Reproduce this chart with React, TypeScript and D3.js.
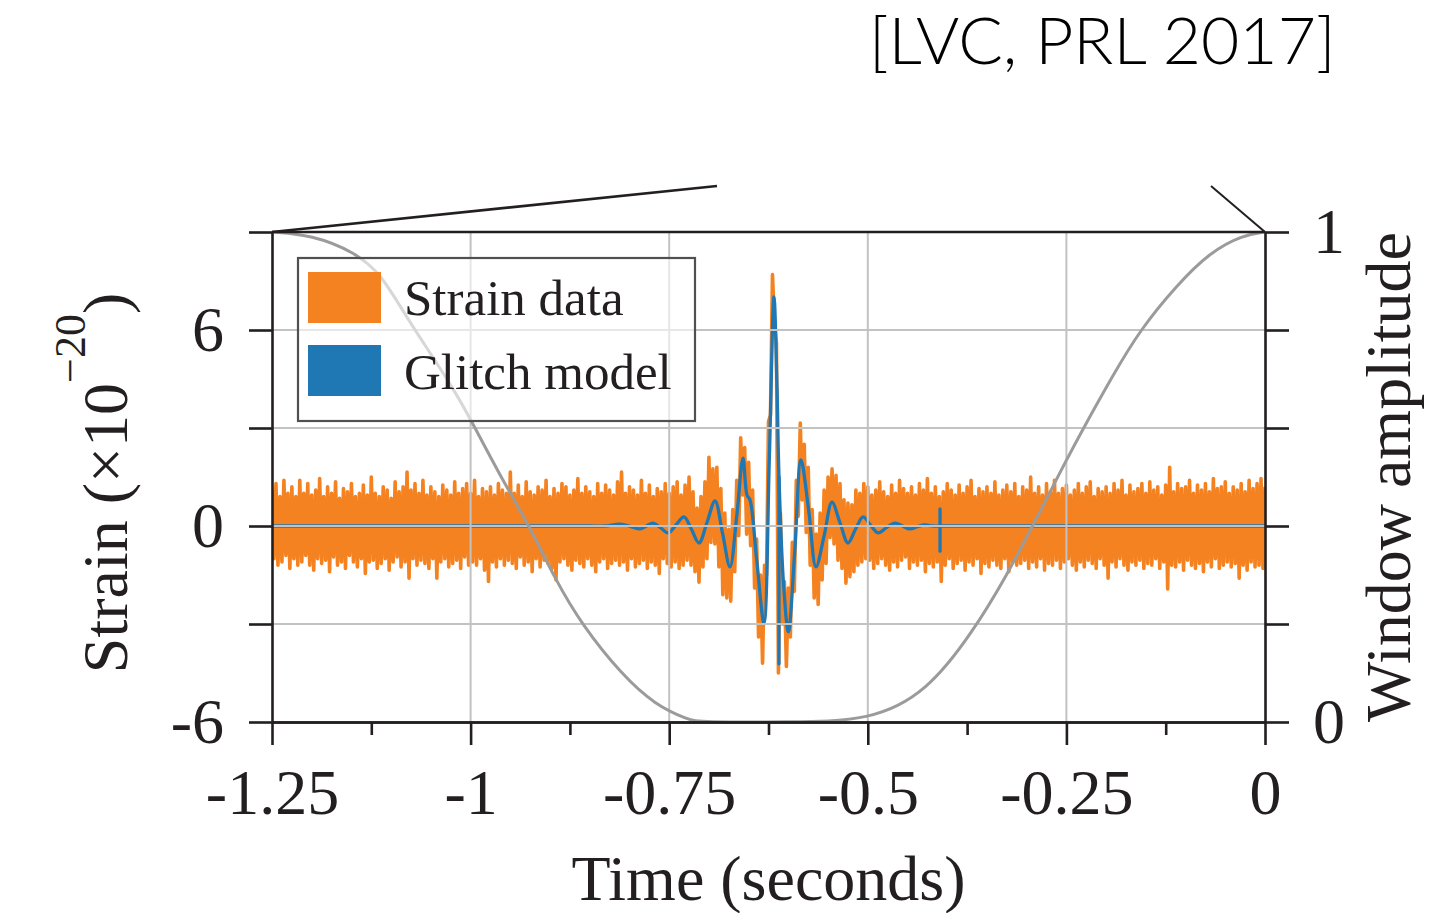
import React, { useEffect, useRef } from 'react';
import * as d3 from 'd3';

// ---------------- data ----------------
const xDomain: [number, number] = [-1.25, 0];
const yDomain: [number, number] = [-6, 9];
const y2Domain: [number, number] = [0, 1];

const xMajorTicks = [-1.25, -1, -0.75, -0.5, -0.25, 0];
const xMinorTicks = [-1.125, -0.875, -0.625, -0.375, -0.125];
const xGrid = [-1, -0.75, -0.5, -0.25];
const yTicks = [-6, -3, 0, 3, 6, 9];
const yTickLabels = [-6, 0, 6];
const yGrid = [-3, 0, 3, 6];
const y2Ticks = [0, 0.2, 0.4, 0.6, 0.8, 1];
const y2TickLabels = [0, 1];

const legendLabels = ['Strain data', 'Glitch model'];
const legendColors = ['#f58220', '#1f77b4'];

// strain samples, one every 0.0025 s starting at -1.25 s (units of 1e-20)
const strainStart = -1.25;
const strainStep = 0.0025;
const strainValues = [
  1.1,-1.0,1.3,-1.2,0.9,-1.1,1.4,-0.9,1.0,-1.3,1.2,-1.0,0.9,-1.2,1.4,-1.1,1.0,-0.9,1.3,-1.2,
  0.95,-1.35,1.1,-1.0,1.45,-1.15,0.9,-1.05,1.2,-1.4,1.0,-0.95,1.35,-1.2,0.85,-1.1,1.15,-1.3,1.05,-0.9,
  1.3,-1.1,0.9,-1.25,1.0,-1.0,1.25,-1.45,0.95,-1.1,1.5,-1.05,1.0,-1.3,0.9,-1.15,1.2,-1.0,1.1,-1.35,
  0.85,-1.1,1.35,-0.95,1.05,-1.25,1.2,-1.1,1.65,-1.6,1.1,-1.0,1.3,-1.2,1.0,-1.05,1.4,-1.15,0.95,-1.3,
  1.2,-1.0,1.05,-1.6,0.9,-1.1,1.25,-1.0,1.1,-1.25,0.95,-1.15,1.35,-1.05,1.0,-1.3,1.15,-0.95,1.3,-1.2,
  1.0,-1.1,1.4,-1.2,0.9,-1.0,1.15,-1.35,1.05,-1.7,1.2,-1.1,0.95,-1.25,1.3,-1.0,1.1,-1.2,1.0,-1.05,
  1.65,-1.15,1.0,-1.3,1.25,-0.95,0.9,-1.2,1.35,-1.1,1.05,-1.4,0.95,-1.0,1.2,-1.25,1.1,-1.05,1.4,-1.15,
  0.9,-1.3,1.15,-1.65,1.0,-1.1,1.3,-1.0,1.2,-1.2,0.95,-1.35,1.1,-1.05,1.45,-1.15,1.0,-1.25,1.2,-1.0,
  1.05,-1.2,0.9,-1.4,1.3,-1.1,1.0,-1.0,1.25,-1.3,1.1,-1.15,0.95,-1.05,1.35,-1.2,1.65,-1.1,1.0,-1.35,
  1.2,-1.0,1.1,-1.25,0.95,-1.15,1.4,-1.05,1.0,-1.3,1.25,-1.1,0.9,-1.2,1.15,-1.45,1.05,-1.0,1.3,-1.15,
  1.0,-1.25,1.2,-1.1,1.35,-1.3,0.95,-1.2,1.25,-1.05,1.5,-1.2,1.05,-1.4,0.55,-1.72,0.9,-1.25,1.35,-1.0,
  2.1,-0.5,1.75,-0.55,1.8,-1.25,1.15,-2.1,0.4,-2.2,-0.1,-2.3,0.5,-1.4,1.4,-0.3,2.7,0.95,2.4,-0.25,
  1.95,-0.6,1.1,-1.9,-0.4,-3.4,-1.5,-4.2,-1.2,-1.5,3.2,3.4,7.7,6.2,5.6,-4.5,0.4,-3.0,-1.7,-4.3,
  -1.9,-3.4,-0.5,-2.0,1.4,0.3,3.15,0.8,2.5,-0.2,1.8,-1.2,0.5,-2.2,-0.25,-2.4,0.4,-1.65,1.1,-1.15,
  1.5,-0.35,1.75,-0.55,1.55,-1.05,1.3,-1.3,0.8,-1.75,0.7,-1.55,0.65,-1.4,1.1,-1.2,1.0,-1.1,1.3,-1.0,
  1.2,-1.05,0.95,-1.3,1.1,-1.15,1.35,-1.0,1.05,-1.2,0.9,-1.35,1.25,-1.1,1.0,-1.25,1.4,-1.05,1.15,-0.95,
  1.0,-1.3,1.2,-1.1,0.95,-1.2,1.3,-1.05,1.1,-1.4,1.45,-1.15,1.0,-1.25,1.2,-1.1,0.9,-1.7,1.05,-1.2,
  1.3,-1.0,1.1,-1.3,0.95,-1.15,1.25,-1.05,1.0,-1.35,1.2,-1.1,1.4,-1.2,0.9,-1.0,1.15,-1.45,1.05,-1.15,
  1.2,-1.25,1.0,-1.05,1.35,-1.2,0.95,-1.3,1.1,-1.0,1.25,-1.4,1.05,-1.1,1.3,-1.2,0.9,-1.15,1.2,-1.05,
  1.1,-1.3,1.5,-1.1,1.0,-1.25,1.2,-1.0,0.95,-1.35,1.3,-1.15,1.05,-1.2,1.4,-1.05,1.0,-1.3,1.15,-1.1,
  1.25,-1.0,0.95,-1.2,1.1,-1.35,1.3,-1.1,1.0,-1.25,1.2,-1.05,1.35,-1.15,0.9,-1.3,1.15,-1.0,1.05,-1.2,
  1.2,-1.6,1.0,-1.1,1.3,-1.25,1.1,-1.0,1.4,-1.2,0.95,-1.35,1.25,-1.1,1.05,-1.2,1.15,-1.05,1.3,-1.3,
  1.0,-1.15,1.35,-1.2,1.1,-1.0,1.2,-1.3,0.95,-1.1,1.25,-1.93,1.8,-1.2,1.05,-1.25,1.3,-1.1,1.15,-1.35,
  1.2,-1.05,1.4,-1.2,1.0,-1.3,1.25,-1.15,1.1,-1.4,1.3,-1.1,1.05,-1.25,1.45,-1.0,1.15,-1.3,1.2,-1.2,
  1.35,-1.1,1.0,-1.25,1.2,-1.15,1.1,-1.6,1.3,-1.2,1.05,-1.35,1.4,-1.1,1.15,-1.25,1.3,-1.2,1.45,-1.3,
  1.2,
];

// glitch model (blue), read at its turning points
const glitchT = [
  -1.25, -0.85, -0.8308, -0.8119, -0.799, -0.7868, -0.7786, -0.7704, -0.761, -0.7515, -0.7415, -0.7314,
  -0.722, -0.7125, -0.7025, -0.6923, -0.683, -0.6735, -0.665, -0.6571, -0.6521, -0.6483, -0.64, -0.6307,
  -0.624, -0.6181, -0.6143, -0.6118, -0.606, -0.6, -0.592, -0.5841, -0.5745, -0.5652, -0.555, -0.5451,
  -0.535, -0.5249, -0.5155, -0.506, -0.4966, -0.4872, -0.4765, -0.4657, -0.4563, -0.4469, -0.4375, -0.428,
  -0.418, -0.4091, -0.38, 0,
];
const glitchV = [
  0, 0, 0, 0.06, -0.01, -0.09, 0, 0.09, -0.05, -0.21, 0.03, 0.28,
  -0.1, -0.52, 0.1, 0.77, -0.2, -1.25, 0.3, 2.08, 0.95, 0.8, -1.0, -2.97,
  2.0, 7.01, 4.25, 1.5, -1.8, -3.24, -0.8, 2.02, 0.5, -1.25, -0.3, 0.73,
  0.1, -0.52, -0.1, 0.28, 0.03, -0.21, -0.05, 0.09, 0, -0.09, -0.02, 0.03,
  0, 0, 0, 0,
];
// short vertical jumps in the glitch model
const glitchSpikeT = [-0.6118, -0.4091];
const glitchSpikeLo = [-4.22, -0.77];
const glitchSpikeHi = [1.5, 0.52];

// window amplitude (right axis)
const windowT = [
  -1.25, -1.2, -1.1455, -1.1115, -1.0826, -1.021, -0.9982, -0.9567, -0.9265, -0.8938, -0.8598, -0.8094,
  -0.7679, -0.7251, -0.711, -0.6, -0.497, -0.4255, -0.3676, -0.3248, -0.292, -0.2493, -0.2291, -0.1913,
  -0.1574, -0.1108, -0.0692, -0.0277, 0,
];
const windowV = [
  1, 0.994, 0.959, 0.912, 0.83, 0.68, 0.612, 0.484, 0.402, 0.292, 0.198, 0.096,
  0.035, 0.004, 0, 0, 0.002, 0.061, 0.184, 0.3, 0.402, 0.537, 0.598, 0.708,
  0.8, 0.892, 0.959, 0.994, 1,
];

// ---------------- chart ----------------
const W = 1434;
const H = 913;
const plot = { left: 272, right: 1265, top: 232, bottom: 722 };
const serif = '"Liberation Serif", "Times New Roman", Times, serif';
const ink = '#231f20';

export default function App() {
  const gxMajor = useRef<SVGGElement>(null);
  const gxMinor = useRef<SVGGElement>(null);
  const gyLeft = useRef<SVGGElement>(null);
  const gyRight = useRef<SVGGElement>(null);

  const x = d3.scaleLinear().domain(xDomain).range([plot.left, plot.right]);
  const y = d3.scaleLinear().domain(yDomain).range([plot.bottom, plot.top]);
  const y2 = d3.scaleLinear().domain(y2Domain).range([plot.bottom, plot.top]);

  useEffect(() => {
    const style = (g: any) => {
      g.selectAll('path, line').attr('stroke', ink).attr('stroke-width', 2.6);
      g.selectAll('text').attr('font-family', serif).attr('font-size', 64).attr('fill', ink);
    };
    d3.select(gxMajor.current!)
      .call(d3.axisBottom(x).tickValues(xMajorTicks).tickSize(23).tickPadding(24).tickSizeOuter(0).tickFormat((d: any) => String(d)) as any)
      .call(style);
    d3.select(gxMinor.current!)
      .call(d3.axisBottom(x).tickValues(xMinorTicks).tickSize(13).tickSizeOuter(0).tickFormat(() => '') as any)
      .call(style);
    d3.select(gyLeft.current!)
      .call(d3.axisLeft(y).tickValues(yTicks).tickSize(23).tickPadding(25).tickSizeOuter(0)
        .tickFormat((d: any) => (yTickLabels.includes(d) ? String(d) : '')) as any)
      .call(style);
    d3.select(gyRight.current!)
      .call(d3.axisRight(y2).tickValues(y2Ticks).tickSize(24).tickPadding(24).tickSizeOuter(0)
        .tickFormat((d: any) => (y2TickLabels.includes(d) ? String(d) : '')) as any)
      .call(style);
  }, []);

  const strainLine = d3
    .line<number>()
    .x((_, i) => x(strainStart + i * strainStep))
    .y((d) => y(d))(strainValues) as string;

  const glitchLine = d3
    .line<number>()
    .curve(d3.curveCatmullRom.alpha(0.5))
    .x((_, i) => x(glitchT[i]))
    .y((d) => y(d))(glitchV) as string;

  const windowLine = d3
    .line<number>()
    .curve(d3.curveBasis)
    .x((_, i) => x(windowT[i]))
    .y((d) => y2(d))(windowV) as string;

  const cx = (plot.left + plot.right) / 2;
  const cy = (plot.top + plot.bottom) / 2;

  return (
    <svg width={W} height={H} style={{ position: 'absolute', left: 0, top: 0, background: '#fff' }}>
      <defs>
        <clipPath id="plotClip">
          <rect x={plot.left} y={plot.top} width={plot.right - plot.left} height={plot.bottom - plot.top} />
        </clipPath>
      </defs>

      {/* title */}
      <text x={869} y={64} fontFamily='Lato, "Open Sans", sans-serif' fontWeight={300} fontSize={66} fill="#000">
        [LVC, PRL 2017]
      </text>

      {/* zoom connector lines */}
      <line x1={plot.left} y1={plot.top} x2={717} y2={186} stroke={ink} strokeWidth={2.6} />
      <line x1={1211} y1={186} x2={plot.right} y2={plot.top} stroke={ink} strokeWidth={2} />

      <g clipPath="url(#plotClip)">
        <path d={strainLine} fill="none" stroke="#f58220" strokeWidth={3.6} strokeLinejoin="round" />
        <path d={glitchLine} fill="none" stroke="#1f77b4" strokeWidth={3.3} strokeLinejoin="round" />
        {glitchSpikeT.map((t, i) => (
          <line key={i} x1={x(t)} x2={x(t)} y1={y(glitchSpikeHi[i])} y2={y(glitchSpikeLo[i])}
            stroke="#1f77b4" strokeWidth={3.3} strokeLinecap="round" />
        ))}
        {/* grid on top of data */}
        {xGrid.map((v) => (
          <line key={'gx' + v} x1={x(v)} x2={x(v)} y1={plot.top} y2={plot.bottom} stroke="#c2c2c2" strokeWidth={2} />
        ))}
        {yGrid.map((v) => (
          <line key={'gy' + v} x1={plot.left} x2={plot.right} y1={y(v)} y2={y(v)} stroke="#c2c2c2" strokeWidth={2} />
        ))}
        <path d={windowLine} fill="none" stroke="#9b9b9b" strokeWidth={3} />
      </g>

      {/* legend */}
      <g>
        <rect x={298} y={258} width={397} height={163} fill="#fff" fillOpacity={0.6} stroke="#505050" strokeWidth={2.2} />
        {legendLabels.map((lab, i) => (
          <g key={lab}>
            <rect x={308} y={272 + i * 73} width={73} height={51} fill={legendColors[i]} />
            <text x={404} y={315 + i * 74} fontFamily={serif} fontSize={51} fill={ink}>
              {lab}
            </text>
          </g>
        ))}
      </g>

      {/* axes */}
      <line x1={plot.left} x2={plot.right} y1={plot.top} y2={plot.top} stroke={ink} strokeWidth={2.6} />
      <g ref={gxMinor} transform={`translate(0,${plot.bottom})`} />
      <g ref={gxMajor} transform={`translate(0,${plot.bottom})`} />
      <g ref={gyLeft} transform={`translate(${plot.left},0)`} />
      <g ref={gyRight} transform={`translate(${plot.right},0)`} />

      {/* axis titles */}
      <text x={cx} y={900} textAnchor="middle" fontFamily={serif} fontSize={64} fill={ink}>
        Time (seconds)
      </text>
      <text transform={`translate(127,${cy + 6}) rotate(-90)`} textAnchor="middle" fontFamily={serif} fontSize={64} fill={ink}>
        Strain (×10
        <tspan fontSize={44} dy={-42}>−20</tspan>
        <tspan dy={42}>)</tspan>
      </text>
      <text transform={`translate(1410,${cy}) rotate(-90)`} textAnchor="middle" fontFamily={serif} fontSize={64} fill={ink}>
        Window amplitude
      </text>
    </svg>
  );
}
